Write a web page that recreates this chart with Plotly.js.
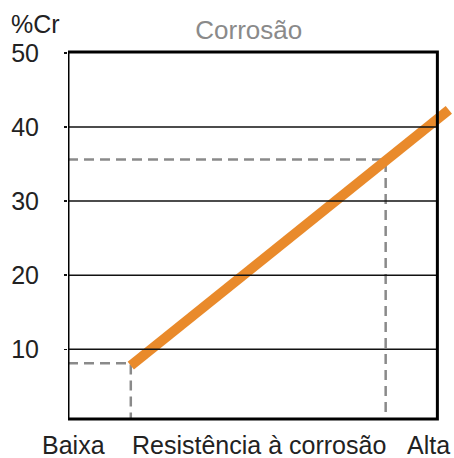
<!DOCTYPE html>
<html>
<head>
<meta charset="utf-8">
<script src="https://cdn.plot.ly/plotly-3.0.1.min.js"></script>
<style>html,body{margin:0;padding:0;background:#fff;}#chart{width:454px;height:458px;}</style>
</head>
<body>
<div id="chart"></div>
<script>
// ---- data ----
const yTicks = [10, 20, 30, 40, 50];
const gridValues = [10, 20, 30, 40];
const lineX = [1.7, 10.31];          // resistance (arbitrary scale 0..10)
const lineY = [7.8, 42.3];           // %Cr
const lowGuideX = [0, 1.7, 1.7];
const lowGuideY = [8.1, 8.1, 0];
const highGuideX = [0, 8.6, 8.6];
const highGuideY = [35.6, 35.6, 0];
const xLabels = ['Baixa', 'Resistência à corrosão', 'Alta'];
const xLabelPos = [0.16, 5.18, 9.77];
const titleText = 'Corrosão';
const yTitleText = '%Cr';

const FONT = 'Liberation Sans, Arial, sans-serif';
const GRAY = '#8a8a8a';
const ORANGE = '#e98a2b';

const traces = [
  {x: lowGuideX, y: lowGuideY, mode: 'lines', line: {color: GRAY, width: 2.5, dash: '10px,6px'}, hoverinfo: 'skip'},
  {x: highGuideX, y: highGuideY, mode: 'lines', line: {color: GRAY, width: 2.5, dash: '10px,6px'}, hoverinfo: 'skip'},
  {x: lineX, y: lineY, mode: 'lines', line: {color: ORANGE, width: 10}, hoverinfo: 'skip'}
];

const shapes = gridValues.map(v => ({
  type: 'line', xref: 'x', yref: 'y', x0: 0, x1: 10, y0: v, y1: v,
  line: {color: '#111', width: 1.5}, layer: 'above'
}));
shapes.push({type: 'rect', xref: 'x', yref: 'paper', x0: 0, x1: 10, y0: 0, y1: 1,
  line: {color: '#000', width: 3}, layer: 'above'});

const annotations = xLabels.map((t, i) => ({
  text: t, xref: 'x', yref: 'paper', x: xLabelPos[i], y: -0.072,
  xanchor: 'center', yanchor: 'middle', showarrow: false,
  font: {family: FONT, size: 25, color: '#222'}
}));
annotations.push({text: yTitleText, xref: 'paper', yref: 'paper', x: -0.152, y: 1.076,
  xanchor: 'left', yanchor: 'middle', showarrow: false,
  font: {family: FONT, size: 25, color: '#222'}});

const layout = {
  width: 454, height: 458,
  margin: {l: 68, r: 0, t: 52, b: 39},
  paper_bgcolor: '#fff', plot_bgcolor: '#fff',
  showlegend: false,
  title: {text: titleText, xref: 'container', yref: 'container', x: 0.548, y: 0.934,
    xanchor: 'center', yanchor: 'middle',
    font: {family: FONT, size: 26, color: GRAY}},
  xaxis: {range: [0, 10.45], showgrid: false, zeroline: false, showline: false,
    showticklabels: false, ticks: '', fixedrange: true},
  yaxis: {range: [0.59, 50.12], tickvals: yTicks, ticktext: yTicks.map(String),
    showgrid: false, zeroline: false, showline: false,
    ticks: 'outside', ticklen: 3, tickwidth: 1.5, tickcolor: '#111',
    ticklabelstandoff: 20,
    tickfont: {family: FONT, size: 25, color: '#222'}, fixedrange: true},
  shapes: shapes,
  annotations: annotations
};

Plotly.newPlot('chart', traces, layout, {displayModeBar: false, staticPlot: true});
</script>
</body>
</html>
